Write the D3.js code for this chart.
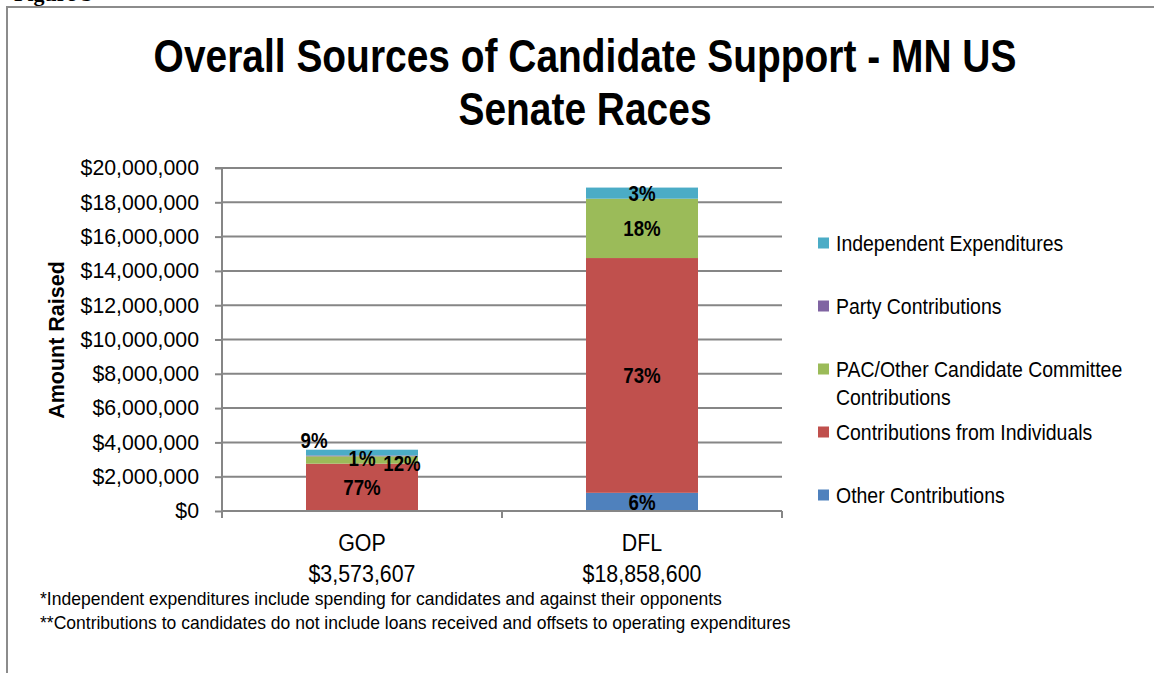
<!DOCTYPE html>
<html>
<head>
<meta charset="utf-8">
<script src="https://cdn.jsdelivr.net/npm/d3@7"></script>
<style>
  html, body { margin: 0; padding: 0; background: #fff; }
  svg { display: block; font-family: "Liberation Sans", Arial, sans-serif; }
</style>
</head>
<body>
<svg id="chart" width="1154" height="673"></svg>
<script>
// ---------------- data ----------------
const categories = ["GOP", "DFL"];
const seriesNames = [
  "Other Contributions",
  "Contributions from Individuals",
  "PAC/Other Candidate Committee Contributions",
  "Party Contributions",
  "Independent Expenditures"
];
const otherContributions      = [0, 1060000];
const individualContributions = [2760000, 13690000];
const pacContributions        = [430000, 3460000];
const partyContributions      = [50000, 0];
const independentExpenditures = [333607, 648600];
const seriesColors = ["#4f81bd", "#c0504d", "#9bbb59", "#8064a2", "#4bacc6"];
const yTickValues = [0, 2000000, 4000000, 6000000, 8000000, 10000000, 12000000, 14000000, 16000000, 18000000, 20000000];
const titleLines = ["Overall Sources of Candidate Support - MN US", "Senate Races"];
const yAxisTitle = "Amount Raised";
const footnotes = [
  "*Independent expenditures include spending for candidates and against their opponents",
  "**Contributions to candidates do not include loans received and offsets to operating expenditures"
];
const figureLabel = "Figure 3";

// ---------------- build ----------------
const seriesValues = [otherContributions, individualContributions, pacContributions, partyContributions, independentExpenditures];
const rows = categories.map((c, i) => {
  const r = { category: c };
  seriesNames.forEach((s, k) => r[s] = seriesValues[k][i]);
  return r;
});
const totals = categories.map((c, i) => d3.sum(seriesValues, v => v[i]));
const stack = d3.stack().keys(seriesNames)(rows);

const svg = d3.select("#chart");
const FONT = "'Liberation Sans', Arial, sans-serif";
const GRID = "#868686";

function squeeze(sel, f) {
  sel.each(function () {
    const L = this.getComputedTextLength();
    d3.select(this).attr("textLength", L * f).attr("lengthAdjust", "spacingAndGlyphs");
  });
}

// figure label (mostly above the page edge, as in the reference) + frame
svg.append("text").attr("x", 14).attr("y", 0.5)
  .attr("font-family", "'Liberation Serif', 'Times New Roman', serif")
  .attr("font-weight", "bold").attr("font-size", 22).text(figureLabel);
svg.append("line").attr("x1", 7).attr("x2", 1154).attr("y1", 7).attr("y2", 7)
  .attr("stroke", "#8c8c8c").attr("stroke-width", 2);
svg.append("line").attr("x1", 7).attr("x2", 7).attr("y1", 6).attr("y2", 673)
  .attr("stroke", "#8c8c8c").attr("stroke-width", 2);

// title
const titleY = [71.7, 125];
titleLines.forEach((t, i) => {
  svg.append("text").attr("x", 585).attr("y", titleY[i])
    .attr("text-anchor", "middle").attr("font-weight", "bold")
    .attr("font-size", 46).attr("fill", "#000").text(t)
    .call(squeeze, 0.846);
});

// scales
const plot = { left: 222, right: 782, top: 168, bottom: 511 };
const x = d3.scaleBand().domain(categories).range([plot.left, plot.right])
  .paddingInner(0.6).paddingOuter(0.3);
const y = d3.scaleLinear().domain([0, 20000000]).range([plot.bottom, plot.top]);

// gridlines
svg.append("g").selectAll("line").data(yTickValues.filter(v => v > 0)).join("line")
  .attr("x1", plot.left).attr("x2", plot.right)
  .attr("y1", d => y(d)).attr("y2", d => y(d))
  .attr("stroke", GRID).attr("stroke-width", 2);

// y axis
const yAxis = d3.axisLeft(y).tickValues(yTickValues).tickSize(7).tickPadding(16)
  .tickFormat(d3.format("$,"));
const gy = svg.append("g").attr("transform", `translate(${plot.left},0)`).call(yAxis);
gy.select(".domain").attr("stroke", GRID).attr("stroke-width", 2).attr("d", `M-7,${plot.top}H0V${plot.bottom + 7}`);
gy.selectAll(".tick line").attr("stroke", GRID).attr("stroke-width", 2);
gy.selectAll(".tick text").attr("font-family", FONT).attr("font-size", 21.3).attr("fill", "#000");

// bars
svg.append("g").selectAll("g").data(stack).join("g")
  .attr("fill", (d, i) => seriesColors[i])
  .selectAll("rect").data(d => d).join("rect")
  .attr("x", d => x(d.data.category))
  .attr("width", x.bandwidth())
  .attr("y", d => y(d[1]))
  .attr("height", d => y(d[0]) - y(d[1]));

// x axis
const gx = svg.append("g").attr("transform", `translate(0,${plot.bottom})`);
gx.append("line").attr("x1", plot.left).attr("x2", plot.right).attr("y1", 0).attr("y2", 0)
  .attr("stroke", GRID).attr("stroke-width", 2);
const step = x.step();
const boundaries = [plot.left + step, plot.right];
gx.selectAll("line.tk").data(boundaries).join("line").attr("class", "tk")
  .attr("x1", d => d).attr("x2", d => d).attr("y1", 0).attr("y2", 7)
  .attr("stroke", GRID).attr("stroke-width", 2);
categories.forEach((c, i) => {
  const cx = x(c) + x.bandwidth() / 2;
  svg.append("text").attr("x", cx).attr("y", 551).attr("text-anchor", "middle")
    .attr("font-size", 23).attr("fill", "#000").text(c).call(squeeze, 0.93);
  svg.append("text").attr("x", cx).attr("y", 582).attr("text-anchor", "middle")
    .attr("font-size", 23).attr("fill", "#000").text(d3.format("$,")(totals[i])).call(squeeze, 0.93);
});

// data labels (percent of bar total), nudged where Excel moved overlapping labels
const nudges = { "GOP|Independent Expenditures": [-48, -12], "GOP|PAC/Other Candidate Committee Contributions": [40, 3], "GOP|Party Contributions": [0, 2] };
const lblG = svg.append("g");
stack.forEach((layer) => {
  layer.forEach((d, i) => {
    const v = d[1] - d[0];
    if (v <= 0) return;
    const key = d.data.category + "|" + layer.key;
    const n = nudges[key] || [0, 0];
    const cx = x(d.data.category) + x.bandwidth() / 2 + n[0];
    const cy = (y(d[0]) + y(d[1])) / 2 + n[1];
    lblG.append("text").attr("x", cx).attr("y", cy).attr("dy", "0.36em")
      .attr("text-anchor", "middle").attr("font-weight", "bold").attr("font-size", 22)
      .attr("fill", "#000").text(Math.round(v / totals[i] * 100) + "%")
      .call(squeeze, 0.85);
  });
});

// y axis title
svg.append("text").attr("transform", "translate(64,340) rotate(-90)")
  .attr("text-anchor", "middle").attr("font-weight", "bold").attr("font-size", 21.5)
  .attr("fill", "#000").text(yAxisTitle);

// legend (reverse of stack order)
const legendOrder = seriesNames.map((s, i) => i).reverse();
const lg = svg.append("g");
legendOrder.forEach((k, j) => {
  const cy = 243 + 63 * j;
  lg.append("rect").attr("x", 818).attr("y", cy - 5.5).attr("width", 11).attr("height", 11)
    .attr("fill", seriesColors[k]);
  const words = seriesNames[k].split(" ");
  const lines = [];
  let cur = "";
  const probe = lg.append("text").attr("font-size", 21.5);
  words.forEach(w => {
    const t = cur ? cur + " " + w : w;
    probe.text(t);
    if (probe.node().getComputedTextLength() * 0.9 > 300 && cur) { lines.push(cur); cur = w; }
    else cur = t;
  });
  lines.push(cur);
  probe.remove();
  lines.forEach((ln, li) => {
    lg.append("text").attr("x", 836).attr("y", cy + li * 28).attr("dy", "0.36em")
      .attr("font-size", 21.5).attr("fill", "#000").text(ln).call(squeeze, 0.905);
  });
});

// footnotes
const footY = [605, 629];
footnotes.forEach((t, i) => {
  svg.append("text").attr("x", 40).attr("y", footY[i])
    .attr("font-size", 19).attr("fill", "#000").text(t).call(squeeze, 0.922);
});
</script>
</body>
</html>
